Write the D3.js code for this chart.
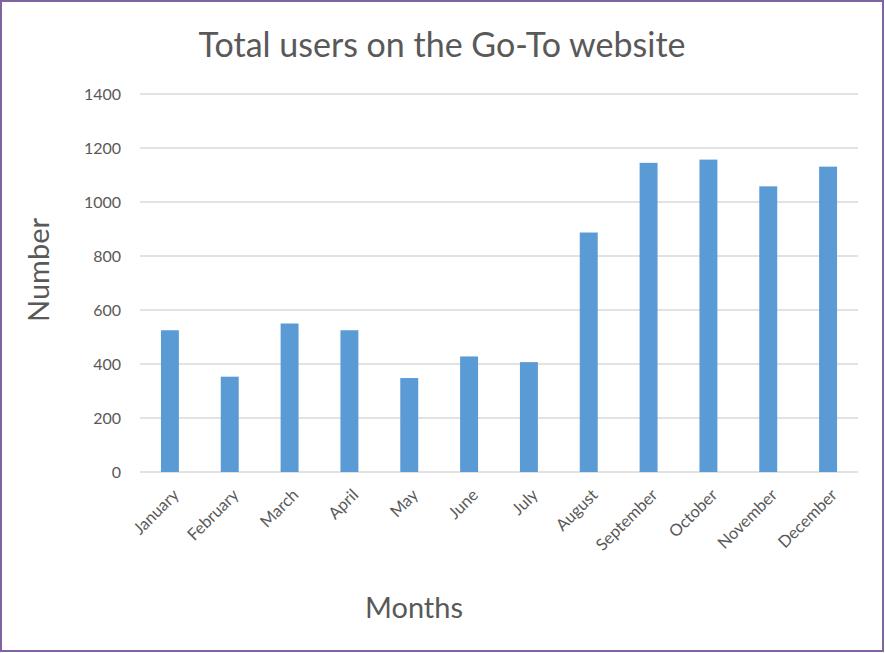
<!DOCTYPE html>
<html>

<head>
    <meta charset="utf-8">
    <title>Total users</title>
    <script src="https://d3js.org/d3.v7.min.js"></script>
    <style>
        body { margin: 0; background: #fff; }
        svg { display: block; font-family: Lato, "Open Sans", sans-serif; }
    </style>
</head>

<body>
    <svg width="885" height="653"></svg>
    <script>
        const months = ["January", "February", "March", "April", "May", "June",
            "July", "August", "September", "October", "November", "December"]
        const users = [525, 353, 550, 525, 348, 428, 407, 887, 1145, 1157, 1058, 1131]
        const yTicks = [0, 200, 400, 600, 800, 1000, 1200, 1400]

        const svg = d3.select("svg")
        const width = +svg.attr("width")
        const height = +svg.attr("height")
        const margin = { top: 94, bottom: 181, left: 140, right: 27 }
        const innerWidth = width - margin.left - margin.right
        const innerHeight = height - margin.top - margin.bottom

        const xScale = d3.scaleBand()
            .domain(months)
            .range([0, innerWidth])

        const yScale = d3.scaleLinear()
            .domain([0, 1400])
            .range([innerHeight, 0])

        const g = svg.append("g")
            .attr("transform", `translate(${margin.left},${margin.top})`)

        // gridlines
        g.selectAll(".grid").data(yTicks).join("line")
            .attr("x1", 0).attr("x2", innerWidth)
            .attr("y1", d => yScale(d)).attr("y2", d => yScale(d))
            .attr("stroke", "#d9d9d9")
            .attr("stroke-width", 1.3)

        const barW = xScale.bandwidth() * 0.3
        g.selectAll(".bar").data(users).join("rect")
            .attr("x", (d, i) => xScale(months[i]) + (xScale.bandwidth() - barW) / 2)
            .attr("y", d => yScale(d))
            .attr("width", barW)
            .attr("height", d => innerHeight - yScale(d))
            .attr("fill", "#5b9bd5")

        const yAxis = d3.axisLeft(yScale).tickValues(yTicks).tickFormat(d3.format("d"))
            .tickSize(0).tickPadding(19)
        const yg = g.append("g").call(yAxis)
        yg.select(".domain").remove()
        yg.selectAll("text")
            .attr("font-size", 16)
            .attr("font-family", "Lato, sans-serif")
            .attr("fill", "#595959")

        const xAxis = d3.axisBottom(xScale).tickSize(0).tickPadding(0)
        const xg = g.append("g")
            .attr("transform", `translate(0,${innerHeight})`)
            .call(xAxis)
        xg.select(".domain").remove()
        xg.selectAll("text")
            .attr("font-size", 16.5)
            .attr("font-family", "Lato, sans-serif")
            .attr("fill", "#595959")
            .attr("text-anchor", "end")
            .attr("dy", 0)
            .attr("transform", "translate(10,24) rotate(-45)")

        svg.append("text")
            .attr("x", 442).attr("y", 57)
            .attr("text-anchor", "middle")
            .attr("font-size", 34)
            .attr("fill", "#595959")
            .text("Total users on the Go-To website")

        svg.append("text")
            .attr("x", 414).attr("y", 618)
            .attr("text-anchor", "middle")
            .attr("font-size", 29)
            .attr("fill", "#595959")
            .text("Months")

        svg.append("text")
            .attr("transform", "translate(49,270) rotate(-90)")
            .attr("text-anchor", "middle")
            .attr("font-size", 29)
            .attr("fill", "#595959")
            .text("Number")

        // frame
        svg.append("rect")
            .attr("x", 1).attr("y", 1)
            .attr("width", width - 3).attr("height", height - 3)
            .attr("fill", "none")
            .attr("stroke", "#8064a2")
            .attr("stroke-width", 2)
    </script>
</body>

</html>
